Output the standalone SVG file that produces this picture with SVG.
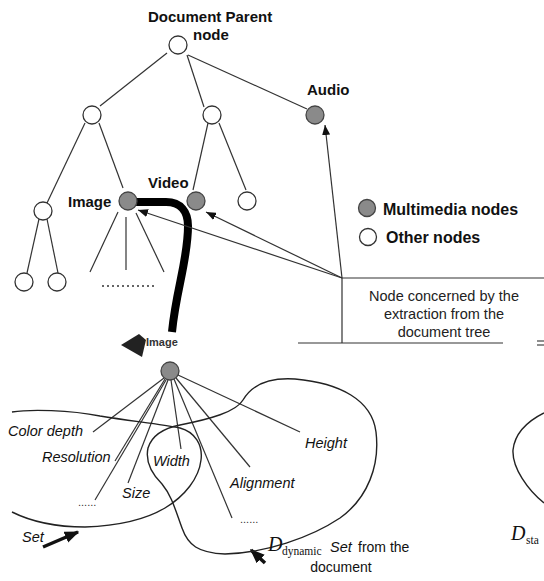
<svg xmlns="http://www.w3.org/2000/svg" width="544" height="581" viewBox="0 0 544 581">
<defs>
<style>
.ln{stroke:#333;stroke-width:1.2;fill:none}
.nw{fill:#fff;stroke:#333;stroke-width:1.3}
.ng{fill:#8a8a8a;stroke:#444;stroke-width:1.3}
.lb{font-family:"Liberation Sans",Arial,sans-serif;font-weight:bold;font-size:15px;fill:#111}
.lg{font-family:"Liberation Sans",Arial,sans-serif;font-weight:bold;font-size:16px;fill:#111}
.bx{font-family:"Liberation Sans",Arial,sans-serif;font-size:14.5px;fill:#222;text-anchor:middle}
.it{font-family:"Liberation Sans",Arial,sans-serif;font-style:italic;font-size:14.5px;fill:#111}
.nm{font-family:"Liberation Sans",Arial,sans-serif;font-size:14px;fill:#111}
.dt{font-family:"Liberation Sans",Arial,sans-serif;font-size:11px;fill:#333}
.D{font-family:"Liberation Serif","Times New Roman",serif;font-style:italic;font-size:20px;fill:#111}
.sub{font-family:"Liberation Serif","Times New Roman",serif;font-size:11.5px;fill:#111}
.blob{fill:none;stroke:#222;stroke-width:1.4}
</style>
<marker id="ah" viewBox="0 0 10 8" refX="10" refY="4" markerWidth="10" markerHeight="8" markerUnits="userSpaceOnUse" orient="auto">
<path d="M0,0 L10,4 L0,8 Z" fill="#111"/>
</marker>
<marker id="ahb" viewBox="0 0 10 8" refX="9" refY="4" markerWidth="4.2" markerHeight="3.4" orient="auto">
<path d="M0,0 L10,4 L0,8 Z" fill="#111"/>
</marker>
</defs>

<g id="tree-edges" class="ln">
<line x1="167" y1="53" x2="100" y2="106"/>
<line x1="187" y1="55" x2="204" y2="107"/>
<line x1="188" y1="55" x2="307" y2="109"/>
<line x1="85" y1="123" x2="47" y2="203"/>
<line x1="99" y1="123" x2="123" y2="188"/>
<line x1="208" y1="123" x2="193" y2="190"/>
<line x1="219" y1="123" x2="246" y2="190"/>
<line x1="39" y1="219" x2="27" y2="273"/>
<line x1="47" y1="219" x2="58" y2="273"/>
<line x1="118" y1="212" x2="90" y2="272"/>
<line x1="126" y1="217" x2="126" y2="270"/>
<line x1="136" y1="213" x2="164" y2="272"/>
<line x1="102" y1="286" x2="155" y2="286" stroke-dasharray="2,3" stroke-width="1.5"/>
</g>

<g id="connectors">
<path d="M133,202 H166 C181,202 188,212 188,226 C188,260 176,290 172,332" fill="none" stroke="#000" stroke-width="8"/>
<line class="ln" x1="342" y1="278" x2="138" y2="210" marker-end="url(#ah)"/>
<line class="ln" x1="342" y1="278" x2="206" y2="212" marker-end="url(#ah)"/>
<line class="ln" x1="342" y1="278" x2="325" y2="125" marker-end="url(#ah)"/>
<line x1="43" y1="547" x2="78" y2="532" stroke="#111" stroke-width="3.5" marker-end="url(#ahb)"/>
<line x1="265" y1="563" x2="251" y2="550" stroke="#111" stroke-width="3.5" marker-end="url(#ahb)"/>
</g>

<g id="node-root"><circle class="nw" cx="178" cy="45" r="9"/>
<text class="lb" x="148" y="22">Document Parent</text><text class="lb" x="193" y="40">node</text></g>
<g id="node-l2a"><circle class="nw" cx="92" cy="115" r="9"/></g>
<g id="node-l2b"><circle class="nw" cx="212" cy="115" r="9"/></g>
<g id="node-audio"><circle class="ng" cx="315" cy="115" r="9"/><text class="lb" x="307" y="95">Audio</text></g>
<g id="node-l3a"><circle class="nw" cx="43" cy="211" r="9"/></g>
<g id="node-image"><circle class="ng" cx="128" cy="201" r="9"/><text class="lb" x="68" y="207">Image</text></g>
<g id="node-video"><circle class="ng" cx="196" cy="201" r="9"/><text class="lb" x="148" y="188">Video</text></g>
<g id="node-l3d"><circle class="nw" cx="247" cy="201" r="9"/></g>
<g id="node-l4a"><circle class="nw" cx="24" cy="282" r="9"/></g>
<g id="node-l4b"><circle class="nw" cx="57" cy="282" r="9"/></g>

<g id="legend">
<circle class="ng" cx="367" cy="208" r="8.5"/><text class="lg" x="383" y="215">Multimedia nodes</text>
<circle class="nw" cx="368" cy="237" r="8.5"/><text class="lg" x="386" y="243">Other nodes</text>
</g>

<g id="extraction-box">
<polyline class="ln" points="544,278 342,278 342,343"/>
<line class="ln" x1="298" y1="343" x2="503" y2="343"/>
<line x1="537" y1="341" x2="544" y2="341" stroke="#444" stroke-width="1.2"/>
<line x1="537" y1="345" x2="544" y2="345" stroke="#444" stroke-width="1.2"/>
<text class="bx" x="444" y="301">Node concerned by the</text>
<text class="bx" x="444" y="319">extraction from the</text>
<text class="bx" x="444" y="337">document tree</text>
</g>

<g id="node-image-detail">
<polygon points="121,345 139,334 146,340 142,357" fill="#222"/>
<text x="146" y="346" font-family="Liberation Sans,Arial,sans-serif" font-size="11" font-weight="bold" fill="#333">Image</text>
<g class="ln">
<line x1="164" y1="378" x2="93" y2="432"/>
<line x1="165" y1="379" x2="115" y2="461"/>
<line x1="166" y1="380" x2="95" y2="500"/>
<line x1="168" y1="380" x2="128" y2="483"/>
<line x1="171" y1="380" x2="181" y2="449"/>
<line x1="174" y1="379" x2="232" y2="518"/>
<line x1="176" y1="378" x2="250" y2="467"/>
<line x1="178" y1="375" x2="300" y2="432"/>
</g>
<circle class="ng" cx="170" cy="371" r="9"/>
</g>

<g id="sets">
<path class="blob" d="M12,412 C30,409 70,410 100,416 C130,421 160,424 180,428 C195,432 203,445 201,460 C199,478 185,496 165,508 C145,520 115,526 85,527 C55,527 30,521 12,512"/>
<path class="blob" d="M180,425 C165,428 152,435 148,448 C145,462 152,474 162,484 C172,496 176,512 182,528 C188,545 198,553 225,554 C265,553 310,538 340,518 C368,498 380,465 376,432 C372,400 340,383 295,379 C265,377 250,388 243,400 C236,412 210,419 180,425 Z"/>
<path class="blob" d="M544,413 C530,420 515,432 513,450 C512,468 528,490 544,503"/>
</g>

<g id="attributes">
<text class="it" x="83" y="436" text-anchor="end">Color depth</text>
<text class="it" x="42" y="462">Resolution</text>
<text class="it" x="122" y="498">Size</text>
<text class="it" x="153" y="466">Width</text>
<text class="it" x="230" y="488">Alignment</text>
<text class="it" x="305" y="448">Height</text>
<text class="dt" x="78" y="506">......</text>
<text class="dt" x="240" y="523">......</text>
</g>

<g id="set-labels">
<text class="it" x="22" y="542">Set</text>
<text class="D" x="268" y="551">D</text><text class="sub" x="282" y="555">dynamic</text>
<text class="it" x="330" y="552">Set</text><text class="nm" x="358" y="552">from the</text>
<text class="nm" x="341" y="572" text-anchor="middle">document</text>
<text class="D" x="511" y="540">D</text><text class="sub" x="526" y="544">sta</text>
</g>
</svg>
